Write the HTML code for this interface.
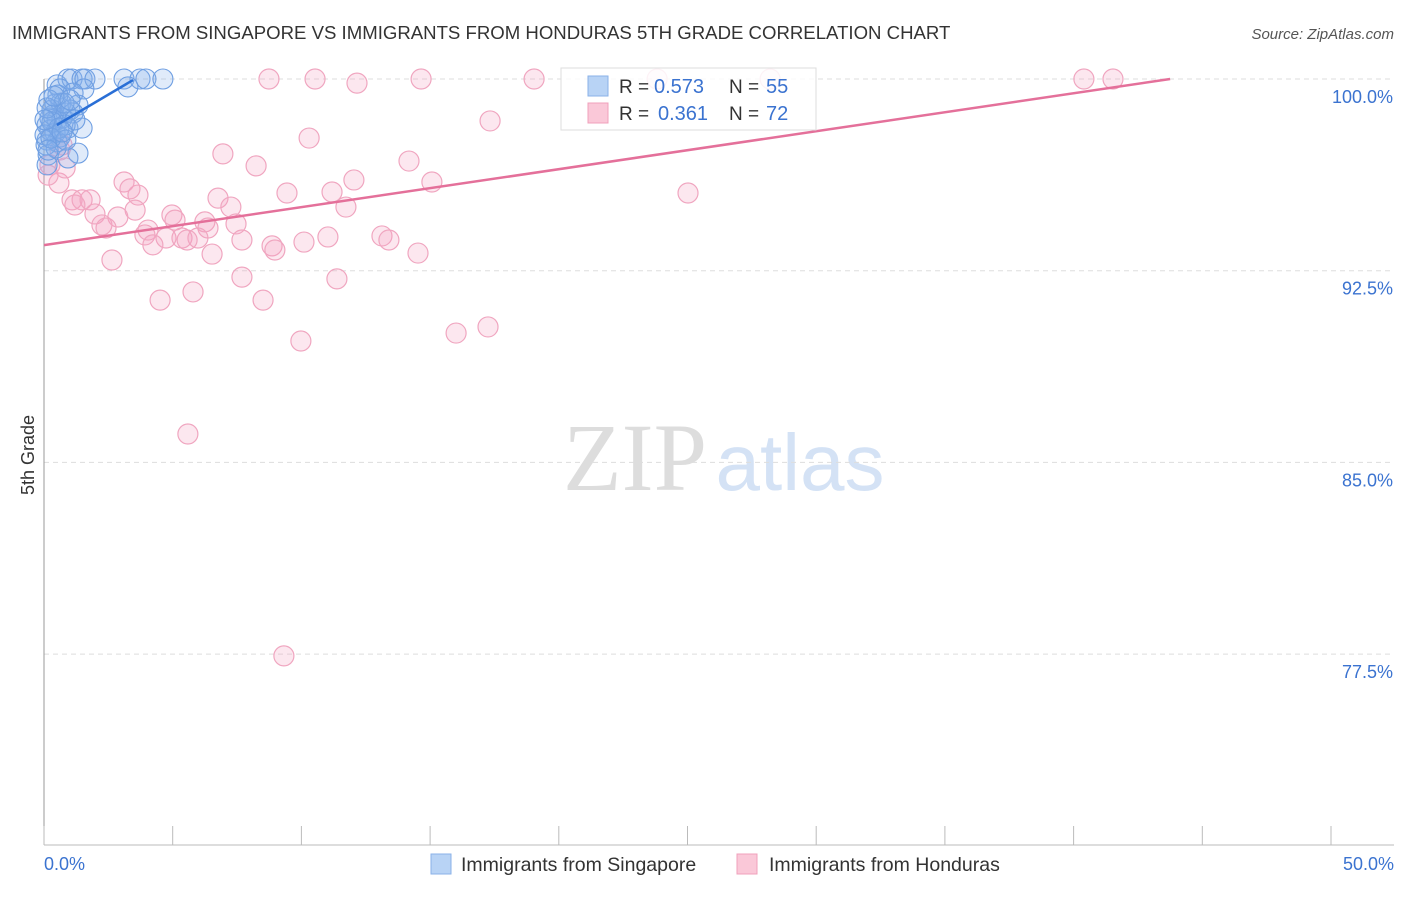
<!DOCTYPE html>
<html><head><meta charset="utf-8"><style>
body{margin:0;background:#fff;font-family:"Liberation Sans",sans-serif}
</style></head><body>
<svg width="1406" height="892" xmlns="http://www.w3.org/2000/svg" id="chart">
<text x="12" y="39" font-size="18.6" fill="#333">IMMIGRANTS FROM SINGAPORE VS IMMIGRANTS FROM HONDURAS 5TH GRADE CORRELATION CHART</text>
<text x="1394" y="39" font-size="15" fill="#555" font-style="italic" text-anchor="end">Source: ZipAtlas.com</text>
<text x="34" y="455" font-size="18" fill="#333" transform="rotate(-90 34 455)" text-anchor="middle">5th Grade</text>
<g>
<text x="635" y="490" font-size="96" fill="#ddd" font-family="Liberation Serif" text-anchor="middle">ZIP</text>
<text x="800" y="490" font-size="80" fill="#d4e2f5" text-anchor="middle">atlas</text>
</g>
<g id="grid"></g><g id="axes"></g><g id="pts"></g><g id="lines"></g>
<g>
<rect x="561" y="68" width="255" height="62" fill="#fff" fill-opacity="0.85" stroke="#ddd"/>
<rect x="588" y="76" width="20" height="20" fill="#b8d3f5" stroke="#8ab2e8"/>
<rect x="588" y="103" width="20" height="20" fill="#fac8d8" stroke="#f0a0bb"/>
<text x="619" y="93" font-size="19" fill="#333">R =</text>
<text x="654" y="93" font-size="20" fill="#3b73d0">0.573</text>
<text x="729" y="93" font-size="19" fill="#333">N =</text>
<text x="766" y="93" font-size="20" fill="#3b73d0">55</text>
<text x="619" y="120" font-size="19" fill="#333">R =</text>
<text x="658" y="120" font-size="20" fill="#3b73d0">0.361</text>
<text x="729" y="120" font-size="19" fill="#333">N =</text>
<text x="766" y="120" font-size="20" fill="#3b73d0">72</text>
</g>
<g>
<rect x="431" y="854" width="20" height="20" fill="#b8d3f5" stroke="#8ab2e8"/>
<text x="461" y="871" font-size="19.5" fill="#333">Immigrants from Singapore</text>
<rect x="737" y="854" width="20" height="20" fill="#fac8d8" stroke="#f0a0bb"/>
<text x="769" y="871" font-size="19.5" fill="#333">Immigrants from Honduras</text>
</g>
</svg>
<script>
const yTicks=[100,92.5,85,77.5];
const yTickLabels=["100.0%","92.5%","85.0%","77.5%"];
const xTickLabels=["0.0%","50.0%"];
const blueX=[0.51,0.93,1.09,1.48,1.59,1.98,3.11,3.73,3.96,4.62,3.26,0.62,1.55,1.13,0.43,0.66,1.32,0.31,0.85,1.13,0.23,0.51,0.12,0.93,1.48,0.43,0.62,0.12,0.51,1.32,0.93,0.16,0.12,0.23,0.70,0.35,0.08,0.54,1.01,0.82,0.19,0.31,0.04,0.47,0.78,1.20,0.12,0.58,0.27,0.85,0.16,0.39,0.70,1.01,0.04];
const blueY=[99.77,100,100,100,100,100,100,100,100,100,99.69,99.61,99.61,99.45,99.02,99.06,98.98,98.79,98.67,98.67,98.47,98.40,98.20,98.08,98.08,97.89,97.73,97.61,97.54,97.10,96.91,97.03,96.64,98.00,98.47,98.59,97.42,99.37,98.79,98.20,99.18,98.32,97.81,97.30,99.06,98.40,98.87,98.08,97.69,97.61,97.22,99.33,97.93,99.18,98.40];
const pinkX=[8.74,10.53,12.16,14.65,19.04,23.82,28.21,40.40,41.53,17.33,10.30,6.95,14.18,8.24,15.07,12.04,0.58,3.11,3.65,3.34,25.02,9.44,11.19,1.09,1.48,1.79,6.76,7.26,11.73,3.54,1.98,4.97,2.87,2.25,6.25,7.46,4.04,5.09,2.41,3.92,6.37,4.74,5.36,5.98,7.69,10.10,11.03,13.13,13.40,8.86,8.97,4.23,6.53,14.53,2.64,7.69,11.38,5.79,4.51,8.51,16.01,17.25,9.98,5.59,9.32,0.23,0.82,0.62,1.20,0.16,0.70,5.56];
const pinkY=[100,100,99.84,100,100,100,100,100,100,98.36,97.69,97.07,96.79,96.60,95.97,96.05,95.93,95.97,95.46,95.70,95.54,95.54,95.58,95.27,95.27,95.27,95.34,94.99,94.99,94.87,94.72,94.68,94.60,94.29,94.41,94.33,94.09,94.48,94.17,93.90,94.17,93.78,93.78,93.78,93.70,93.62,93.82,93.86,93.70,93.47,93.31,93.51,93.15,93.19,92.92,92.25,92.18,91.67,91.35,91.35,90.06,90.30,89.75,86.11,77.43,96.64,96.52,97.22,95.07,96.24,97.42,93.70];
const blueTrend=[[0.5,98.2],[3.46,99.96]];
const pinkTrend=[[0,93.5],[43.75,100]];
const NS="http://www.w3.org/2000/svg";
const X=v=>44+v*25.74, Y=v=>79+(100-v)*25.56;
function mk(t,a,p){const e=document.createElementNS(NS,t);for(const k in a)e.setAttribute(k,a[k]);p.appendChild(e);return e;}
const grid=document.getElementById('grid'),axes=document.getElementById('axes'),pts=document.getElementById('pts'),lines=document.getElementById('lines');
yTicks.forEach((t,i)=>{
 const l=mk('line',{x1:44,x2:1394,y1:Y(t),y2:Y(t),stroke:'#ddd','stroke-dasharray':'5,4'},grid);
 
 
 const tx=mk('text',{x:1393,y:Y(t)+24,'font-size':18,fill:'#3b73d0','text-anchor':'end'},axes);
 tx.textContent=yTickLabels[i];
 
 
});
let a=mk('line',{x1:44,x2:44,y1:79,y2:845,stroke:'#999'},axes);


a=mk('line',{x1:44,x2:1394,y1:845,y2:845,stroke:'#bbb'},axes);


for(let i=0;i<=10;i++){const t=mk('line',{x1:X(i*5),x2:X(i*5),y1:826,y2:845,stroke:'#bbb'},axes);
 
 }
[[0,'start',44],[50,'end',1394]].forEach((d,i)=>{const t=mk('text',{x:d[2],y:870,'font-size':18,fill:'#3b73d0','text-anchor':d[1]},axes);t.textContent=xTickLabels[i];
 
 });
pinkX.forEach((x,i)=>{const c=mk('circle',{cx:X(x),cy:Y(pinkY[i]),r:10,fill:'rgba(244,160,190,0.25)',stroke:'#f0a6c0','stroke-width':1.2},pts);
 
 });
blueX.forEach((x,i)=>{const c=mk('circle',{cx:X(x),cy:Y(blueY[i]),r:10,fill:'rgba(130,175,235,0.25)',stroke:'#6f9fe2','stroke-width':1.1},pts);
 
 });
let l=mk('line',{x1:X(pinkTrend[0][0]),y1:Y(pinkTrend[0][1]),x2:X(pinkTrend[1][0]),y2:Y(pinkTrend[1][1]),stroke:'#e4709a','stroke-width':2.5},lines);


l=mk('line',{x1:X(blueTrend[0][0]),y1:Y(blueTrend[0][1]),x2:X(blueTrend[1][0]),y2:Y(blueTrend[1][1]),stroke:'#2a6fd6','stroke-width':2.5},lines);


</script>
</body></html>
